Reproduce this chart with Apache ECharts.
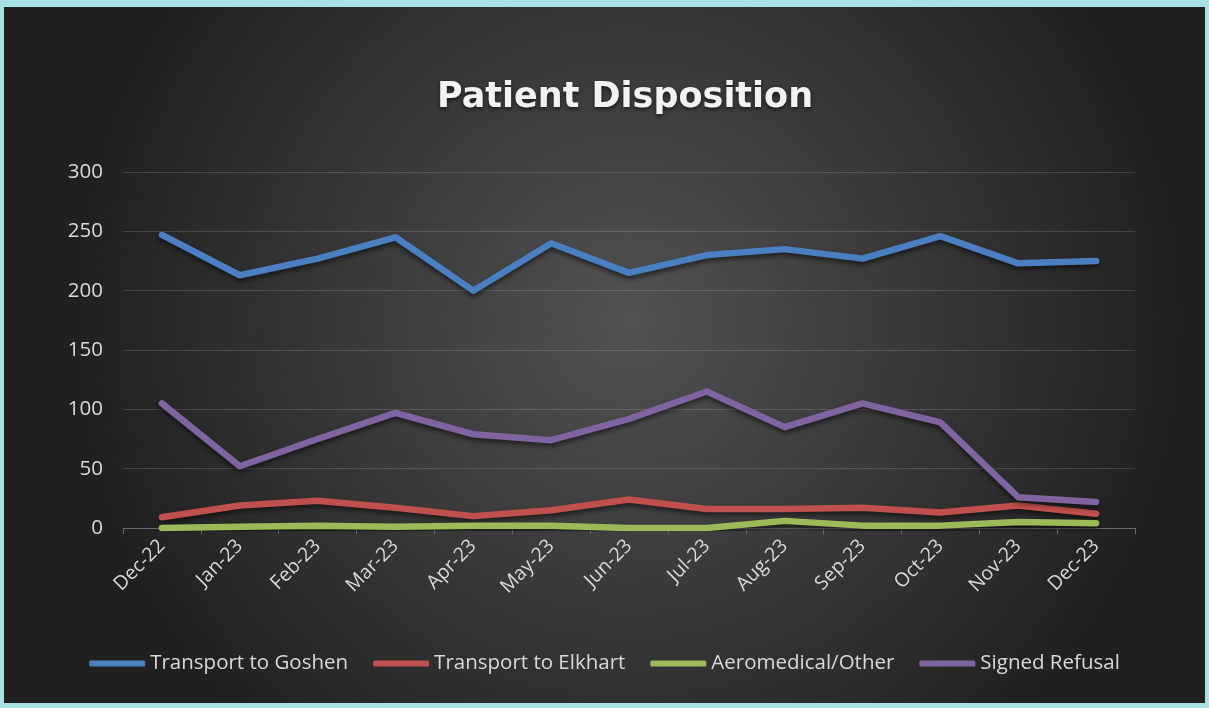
<!DOCTYPE html>
<html>
<head>
<meta charset="utf-8">
<script src="https://cdn.jsdelivr.net/npm/echarts@6/dist/echarts.min.js"></script>
<style>
html,body{margin:0;padding:0;width:1209px;height:708px;background:#a9e2e5;overflow:hidden;}
#chart{position:absolute;left:4px;top:7px;width:1201px;height:696px;}
</style>
</head>
<body>
<div id="chart"></div>
<script>
const categories = ['Dec-22','Jan-23','Feb-23','Mar-23','Apr-23','May-23','Jun-23','Jul-23','Aug-23','Sep-23','Oct-23','Nov-23','Dec-23'];
const goshen   = [247, 213, 227, 245, 200, 240, 215, 230, 235, 227, 246, 223, 225];
const elkhart  = [9, 19, 23, 17, 10, 15, 24, 16, 16, 17, 13, 19, 12];
const aero     = [0, 1, 2, 1, 2, 2, 0, 0, 6, 2, 2, 5, 4];
const refusal  = [105, 52, 75, 97, 79, 74, 92, 115, 85, 105, 89, 26, 22];
const seriesNames = ['Transport to Goshen','Transport to Elkhart','Aeromedical/Other','Signed Refusal'];
const yTicks = [0, 50, 100, 150, 200, 250, 300];

const colors = ['#4a7fc1', '#c0504d', '#9bbb59', '#8064a2'];
const dataSets = [goshen, elkhart, aero, refusal];

const chart = echarts.init(document.getElementById('chart'), null, {renderer:'canvas'});
const font = '"Open Sans", sans-serif';
const option = {
  backgroundColor: {
    type: 'radial', x: 0.52, y: 0.45, r: 0.8,
    colorStops: [{offset: 0, color: '#525252'}, {offset: 1, color: '#202020'}]
  },
  color: colors,
  title: {
    text: 'Patient Disposition',
    left: 616, top: 68, textAlign: 'center',
    textStyle: {
      fontFamily: '"DejaVu Sans", sans-serif', fontWeight: 'bold', fontSize: 35, color: '#f2f2f2',
      textShadowColor: 'rgba(0,0,0,0.6)', textShadowBlur: 4, textShadowOffsetY: 2
    }
  },
  legend: {
    bottom: 24, left: 'center',
    itemWidth: 56, itemHeight: 6, itemGap: 25,
    icon: 'roundRect',
    textStyle: {color: '#d9d9d9', fontFamily: font, fontSize: 20.5},
    data: seriesNames
  },
  grid: {left: 119, right: 70, top: 165, bottom: 175, containLabel: false},
  xAxis: {
    type: 'category', data: categories, boundaryGap: true,
    axisLine: {show: true, lineStyle: {color: '#6b6b6b', width: 1}},
    axisTick: {show: true, length: 6, lineStyle: {color: '#6b6b6b'}},
    axisLabel: {rotate: 45, color: '#d9d9d9', fontFamily: font, fontSize: 19.5, margin: 15, interval: 0}
  },
  yAxis: {
    type: 'value', min: yTicks[0], max: yTicks[yTicks.length-1], interval: 50,
    axisLine: {show: false}, axisTick: {show: false},
    axisLabel: {color: '#d9d9d9', fontFamily: font, fontSize: 20.5, margin: 20},
    splitLine: {lineStyle: {color: 'rgba(255,255,255,0.15)', width: 1}}
  },
  series: dataSets.map((d, i) => ({
    name: seriesNames[i], type: 'line', data: d,
    symbol: 'none', smooth: false,
    lineStyle: {width: 6.5, cap: 'round', join: 'round', color: colors[i],
      shadowColor: 'rgba(0,0,0,0.55)', shadowBlur: 5, shadowOffsetY: 3},
    itemStyle: {color: colors[i]},
    z: i === 2 ? 3 : 2
  }))
};
chart.setOption(option);
</script>
</body>
</html>
